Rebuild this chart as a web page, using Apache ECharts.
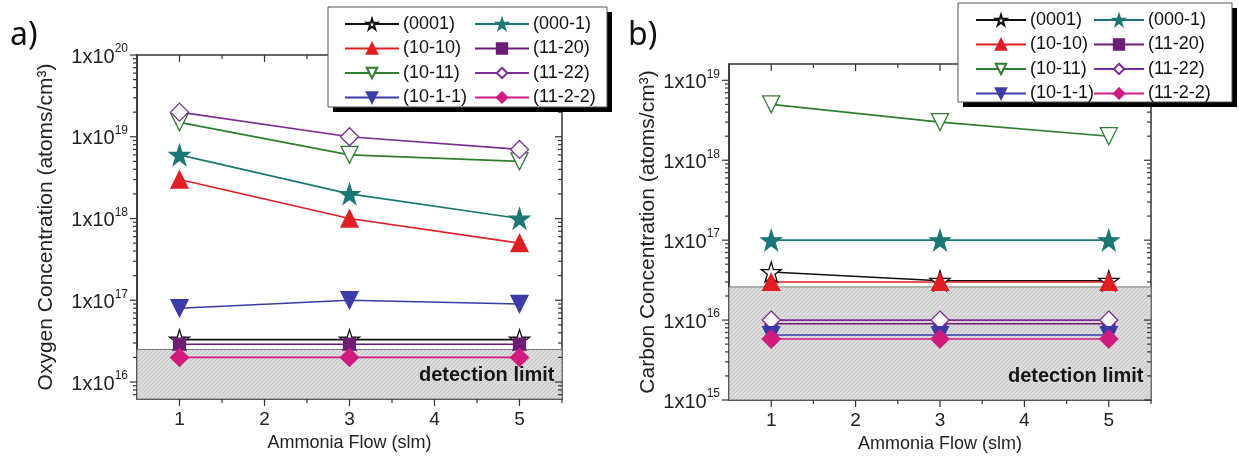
<!DOCTYPE html>
<html><head><meta charset="utf-8">
<script src="https://cdn.jsdelivr.net/npm/echarts@6/dist/echarts.min.js"></script>
<style>html,body{margin:0;padding:0;background:#fff}#c{width:1239px;height:464px}</style>
</head><body><div id="c"></div>
<script>
// ---------- DATA ----------
const flows = [1, 3, 5];
const seriesNames = ['(0001)', '(000-1)', '(10-10)', '(11-20)', '(10-11)', '(11-22)', '(10-1-1)', '(11-2-2)'];
// a) Oxygen concentration (atoms/cm3)
const oxy0001  = [3.3e16, 3.3e16, 3.3e16];
const oxy0001m = [6e18, 2e18, 1e18];
const oxy1010  = [3e18, 1e18, 5e17];
const oxy1120  = [2.9e16, 2.9e16, 2.9e16];
const oxy1011  = [1.5e19, 6e18, 5e18];
const oxy1122  = [2e19, 1e19, 7e18];
const oxy1011m = [8e16, 1e17, 9e16];
const oxy1122m = [2e16, 2e16, 2e16];
// b) Carbon concentration (atoms/cm3)
const carb0001  = [4e16, 3.1e16, 3.1e16];
const carb0001m = [1e17, 1e17, 1e17];
const carb1010  = [3e16, 3e16, 3e16];
const carb1120  = [9e15, 9e15, 9e15];
const carb1011  = [5e18, 3e18, 2e18];
const carb1122  = [1e16, 1e16, 1e16];
const carb1011m = [6.5e15, 6.5e15, 6.5e15];
const carb1122m = [5.8e15, 5.8e15, 5.8e15];
const oxygenDetectionLimit = 2.5e16;
const carbonDetectionLimit = 2.6e16;
const oxygenYRange = [6.2e15, 1e20];
const carbonYRange = [1e15, 1.6e19];
const xRange = [0.5, 5.5];

const oxygenSets = [oxy0001, oxy0001m, oxy1010, oxy1120, oxy1011, oxy1122, oxy1011m, oxy1122m];
const carbonSets = [carb0001, carb0001m, carb1010, carb1120, carb1011, carb1122, carb1011m, carb1122m];

// ---------- STYLES ----------
const STAR = 'path://M50,0 L61.2,34.5 L97.6,34.5 L68.2,55.9 L79.4,90.5 L50,69.1 L20.6,90.5 L31.8,55.9 L2.4,34.5 L38.8,34.5 Z';
const DOWN = 'path://M0,0 L100,0 L50,87 Z';
const UP = 'path://M50,0 L100,87 L0,87 Z';
const STY = {
  '(0001)':   {c: '#111111', fill: '#ffffff', sym: STAR, size: 20},
  '(000-1)':  {c: '#1b7676', fill: '#1b7676', sym: STAR, size: 20},
  '(10-10)':  {c: '#e01e24', fill: '#e01e24', sym: UP, size: 17},
  '(11-20)':  {c: '#6a1f74', fill: '#6a1f74', sym: 'rect', size: 12},
  '(10-11)':  {c: '#2f7d2f', fill: '#ffffff', sym: DOWN, size: 17},
  '(11-22)':  {c: '#7b2d95', fill: '#ffffff', sym: 'diamond', size: 18},
  '(10-1-1)': {c: '#3c3ca8', fill: '#3c3ca8', sym: DOWN, size: 17},
  '(11-2-2)': {c: '#d01c80', fill: '#d01c80', sym: 'diamond', size: 18}
};
const FONT = '"Liberation Sans", Arial, sans-serif';

function hatch() {
  const c = document.createElement('canvas'); c.width = 4; c.height = 4;
  const g = c.getContext('2d');
  g.fillStyle = '#dcdcdc'; g.fillRect(0, 0, 4, 4);
  g.strokeStyle = '#c4c4c4'; g.lineWidth = 1;
  g.beginPath(); g.moveTo(0, 4); g.lineTo(4, 0); g.stroke();
  return c;
}
const hatchPattern = {image: hatch(), repeat: 'repeat'};

function makeSeries(sets, gi, det, yr) {
  const out = sets.map((vals, i) => {
    const name = seriesNames[i], s = STY[name];
    return {
      type: 'line', name, xAxisIndex: gi, yAxisIndex: gi,
      data: flows.map((f, k) => [f, vals[k]]),
      symbol: s.sym, symbolSize: s.size, showAllSymbol: true,
      color: s.c,
      lineStyle: {color: s.c, width: 1.6},
      itemStyle: {color: s.fill, borderColor: s.c, borderWidth: 1.3},
      emphasis: {disabled: true}, animation: false, z: 3
    };
  });
  out[0].markArea = {
    silent: true,
    itemStyle: {color: hatchPattern, borderColor: '#777', borderWidth: 1},
    label: {show: true, position: 'insideBottomRight', formatter: 'detection limit',
      fontFamily: FONT, fontWeight: 'bold', fontSize: 20, color: '#161616', offset: [-3, -9]},
    data: [[{xAxis: xRange[0], yAxis: det}, {xAxis: xRange[1], yAxis: yr[0]}]]
  };
  out.push({
    type: 'custom', xAxisIndex: gi, yAxisIndex: gi, silent: true, clip: false, z: 5,
    data: [[3, yr[0]]],
    renderItem: makeDeco(yr[0], yr[1]), animation: false
  });
  return out;
}

function makeDeco(yLo, yHi) {
  return function (params, api) {
    const cs = params.coordSys;
    const L = cs.x, R = cs.x + cs.width, T = cs.y, B = cs.y + cs.height;
    const ch = [];
    const st = {stroke: '#333', lineWidth: 1.2};
    const add = (x1, y1, x2, y2) => ch.push({type: 'line', shape: {x1, y1, x2, y2}, style: st});
    const e0 = Math.floor(Math.log10(yLo)), e1 = Math.ceil(Math.log10(yHi));
    for (let e = e0; e <= e1; e++) {
      for (let m = 1; m <= 9; m++) {
        const v = m * Math.pow(10, e);
        if (v < yLo * 0.999 || v > yHi * 1.001) continue;
        const py = api.coord([3, v])[1];
        const len = m === 1 ? 7 : 4;
        add(L - len, py, L, py);
        add(R - len, py, R, py);
      }
    }
    for (let k = 1; k <= 10; k++) {
      const xv = xRange[0] + k * 0.5;
      const px = api.coord([xv, yLo])[0];
      const len = (k % 2 === 1) ? 7 : 4;
      add(px, B, px, B + len);
      add(px, T, px, T + len);
    }
    return {type: 'group', children: ch};
  };
}

function yAxisOf(gi, yr, name, gap) {
  return {
    type: 'log', logBase: 10, gridIndex: gi, min: yr[0], max: yr[1],
    name, nameLocation: 'middle', nameGap: gap, nameMoveOverlap: false,
    nameTextStyle: {fontFamily: FONT, fontSize: 21, color: '#222'},
    axisLine: {show: true, lineStyle: {color: '#333', width: 1.5}},
    axisTick: {show: false}, splitLine: {show: false}, minorTick: {show: false},
    axisLabel: {
      margin: 9,
      formatter: v => {
        const e = Math.log10(v);
        if (Math.abs(e - Math.round(e)) > 1e-6) return '';
        return '{b|1x10}{s|' + Math.round(e) + '}';
      },
      rich: {
        b: {fontFamily: FONT, fontSize: 20, color: '#222', lineHeight: 24, verticalAlign: 'bottom'},
        s: {fontFamily: FONT, fontSize: 12, color: '#222', verticalAlign: 'top', lineHeight: 24}
      }
    }
  };
}
function xAxisOf(gi) {
  return {
    type: 'value', gridIndex: gi, min: xRange[0], max: xRange[1], interval: 0.5,
    name: 'Ammonia Flow (slm)', nameLocation: 'middle', nameGap: 31,
    nameTextStyle: {fontFamily: FONT, fontSize: 18, color: '#222'},
    axisLine: {show: true, lineStyle: {color: '#333', width: 1.5}},
    axisTick: {show: false}, splitLine: {show: false},
    axisLabel: {
      margin: 11, fontFamily: FONT, fontSize: 19, color: '#222',
      formatter: v => (Math.abs(v - Math.round(v)) < 1e-6 && v >= 1 && v <= 5) ? String(Math.round(v)) : ''
    }
  };
}

function legendOf(left, top, names, w) {
  return {
    left, top, orient: 'vertical', data: names, selectedMode: false,
    itemWidth: w, itemHeight: 13, itemGap: 4.5, z: 12,
    textStyle: {fontFamily: FONT, fontSize: 18, color: '#111', lineHeight: 20, padding: [0, 0, 0, -1]}
  };
}
function legendBox(x, y, w, h) {
  return [
    {type: 'rect', z: 8, shape: {x: x + 5, y: y + 5, width: w, height: h}, style: {fill: '#000'}},
    {type: 'rect', z: 9, shape: {x, y, width: w, height: h}, style: {fill: '#fff', stroke: '#555', lineWidth: 1}}
  ];
}

const chart = echarts.init(document.getElementById('c'), null, {renderer: 'canvas'});
chart.setOption({
  animation: false,
  backgroundColor: '#fff',
  grid: [
    {left: 137, right: 677, top: 55, bottom: 65, show: true, borderColor: '#333', borderWidth: 1.5, backgroundColor: 'transparent'},
    {left: 729, right: 88, top: 64, bottom: 64, show: true, borderColor: '#333', borderWidth: 1.5, backgroundColor: 'transparent'}
  ],
  xAxis: [xAxisOf(0), xAxisOf(1)],
  yAxis: [
    yAxisOf(0, oxygenYRange, 'Oxygen Concentration (atoms/cm³)', 80),
    yAxisOf(1, carbonYRange, 'Carbon Concentration (atoms/cm³)', 70)
  ],
  legend: [
    legendOf(339, 9, ['(0001)', '(10-10)', '(10-11)', '(10-1-1)'], 54),
    legendOf(469, 9, ['(000-1)', '(11-20)', '(11-22)', '(11-2-2)'], 54),
    legendOf(970, 5, ['(0001)', '(10-10)', '(10-11)', '(10-1-1)'], 50),
    legendOf(1088, 5, ['(000-1)', '(11-20)', '(11-22)', '(11-2-2)'], 50)
  ],
  graphic: [
    ...legendBox(328, 7, 279, 100),
    ...legendBox(958, 3, 274, 99),
    {type: 'text', left: 10, top: 20, style: {text: 'a)', font: '32px "Noto Sans"', fill: '#111'}},
    {type: 'text', left: 628, top: 20, style: {text: 'b)', font: '32px "Noto Sans"', fill: '#111'}}
  ],
  series: [
    ...makeSeries(oxygenSets, 0, oxygenDetectionLimit, oxygenYRange),
    ...makeSeries(carbonSets, 1, carbonDetectionLimit, carbonYRange)
  ]
});
</script></body></html>
